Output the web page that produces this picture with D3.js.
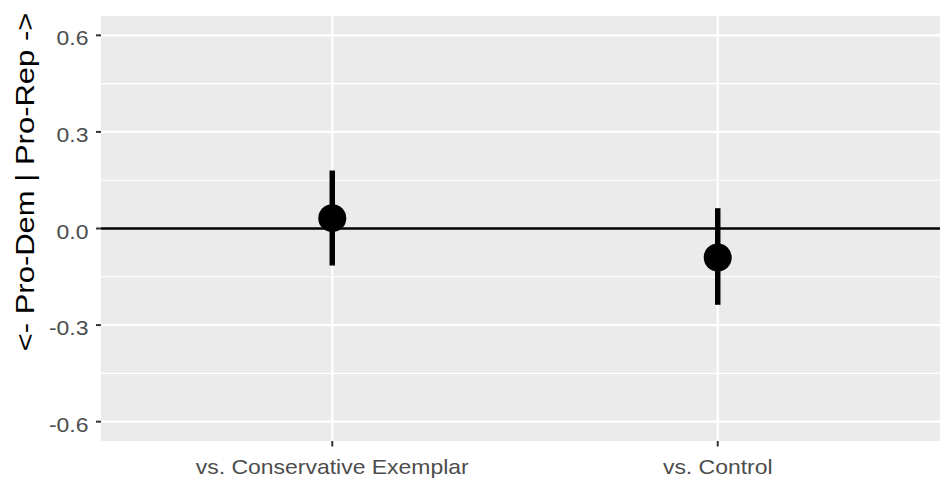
<!DOCTYPE html>
<html>
<head>
<meta charset="utf-8">
<script src="https://cdn.jsdelivr.net/npm/d3@7"></script>
<style>
  html, body { margin: 0; padding: 0; background: #ffffff; }
  svg { display: block; }
  text { font-family: "Liberation Sans", Arial, sans-serif; }
</style>
</head>
<body>
<svg id="chart" width="940" height="480"></svg>
<script>
// Estimated effect (with 95% interval) for each comparison
const categories = ["vs. Conservative Exemplar", "vs. Control"];
const estimates  = [0.032, -0.090];
const lowers     = [-0.115, -0.237];
const uppers     = [0.180, 0.063];

const yMajorTicks = [-0.6, -0.3, 0.0, 0.3, 0.6];
const yTickLabels = ["-0.6", "-0.3", "0.0", "0.3", "0.6"];
const yMinorTicks = [-0.45, -0.15, 0.15, 0.45];
const yTitle = "<- Pro-Dem | Pro-Rep ->";

const svg = d3.select("#chart");

// panel geometry
const panel = { left: 101, right: 949, top: 16, bottom: 441 };

const x = d3.scalePoint()
  .domain(categories)
  .range([panel.left, panel.right])
  .padding(0.6);

const y = d3.scaleLinear()
  .domain([-0.66, 0.66])
  .range([panel.bottom, panel.top]);

// panel background
svg.append("rect")
  .attr("x", panel.left).attr("y", panel.top)
  .attr("width", panel.right - panel.left)
  .attr("height", panel.bottom - panel.top)
  .attr("fill", "#ebebeb");

const grid = svg.append("g");

// minor horizontal gridlines
grid.selectAll("line.minor").data(yMinorTicks).enter().append("line")
  .attr("x1", panel.left).attr("x2", panel.right)
  .attr("y1", d => y(d)).attr("y2", d => y(d))
  .attr("stroke", "#ffffff").attr("stroke-width", 1.1);

// major horizontal gridlines
grid.selectAll("line.majorY").data(yMajorTicks).enter().append("line")
  .attr("x1", panel.left).attr("x2", panel.right)
  .attr("y1", d => y(d)).attr("y2", d => y(d))
  .attr("stroke", "#ffffff").attr("stroke-width", 2.2);

// major vertical gridlines
grid.selectAll("line.majorX").data(categories).enter().append("line")
  .attr("x1", d => x(d)).attr("x2", d => x(d))
  .attr("y1", panel.top).attr("y2", panel.bottom)
  .attr("stroke", "#ffffff").attr("stroke-width", 2.2);

// reference line at zero
svg.append("line")
  .attr("x1", panel.left).attr("x2", panel.right)
  .attr("y1", y(0)).attr("y2", y(0))
  .attr("stroke", "#000000").attr("stroke-width", 2.4);

const rows = categories.map((c, i) => ({ c, est: estimates[i], lo: lowers[i], hi: uppers[i] }));

// interval bars
svg.selectAll("line.err").data(rows).enter().append("line")
  .attr("x1", d => x(d.c)).attr("x2", d => x(d.c))
  .attr("y1", d => y(d.lo)).attr("y2", d => y(d.hi))
  .attr("stroke", "#000000").attr("stroke-width", 5.5);

// point estimates
svg.selectAll("circle.pt").data(rows).enter().append("circle")
  .attr("cx", d => x(d.c)).attr("cy", d => y(d.est))
  .attr("r", 14).attr("fill", "#000000");

// y axis ticks and labels
const yAxis = svg.append("g");
yAxis.selectAll("line").data(yMajorTicks).enter().append("line")
  .attr("x1", panel.left - 5).attr("x2", panel.left)
  .attr("y1", d => y(d)).attr("y2", d => y(d))
  .attr("stroke", "#333333").attr("stroke-width", 2);
yAxis.selectAll("text").data(yMajorTicks).enter().append("text")
  .attr("transform", d => `translate(${panel.left - 12.5},${y(d) + 10}) scale(1.12,1)`)
  .attr("text-anchor", "end")
  .attr("font-size", "20.5px")
  .attr("fill", "#4d4d4d")
  .text((d, i) => yTickLabels[i]);

// x axis ticks and labels
const xAxis = svg.append("g");
xAxis.selectAll("line").data(categories).enter().append("line")
  .attr("x1", d => x(d)).attr("x2", d => x(d))
  .attr("y1", panel.bottom).attr("y2", panel.bottom + 5.5)
  .attr("stroke", "#333333").attr("stroke-width", 2);
xAxis.selectAll("text").data(categories).enter().append("text")
  .attr("transform", d => `translate(${x(d)},${panel.bottom + 33}) scale(1.12,1)`)
  .attr("text-anchor", "middle")
  .attr("font-size", "20.5px")
  .attr("fill", "#4d4d4d")
  .text(d => d);

// y axis title
svg.append("text")
  .attr("transform", `translate(34,182) rotate(-90) scale(1.24,1)`)
  .attr("text-anchor", "middle")
  .attr("font-size", "25px")
  .attr("fill", "#000000")
  .text(yTitle);
</script>
</body>
</html>
